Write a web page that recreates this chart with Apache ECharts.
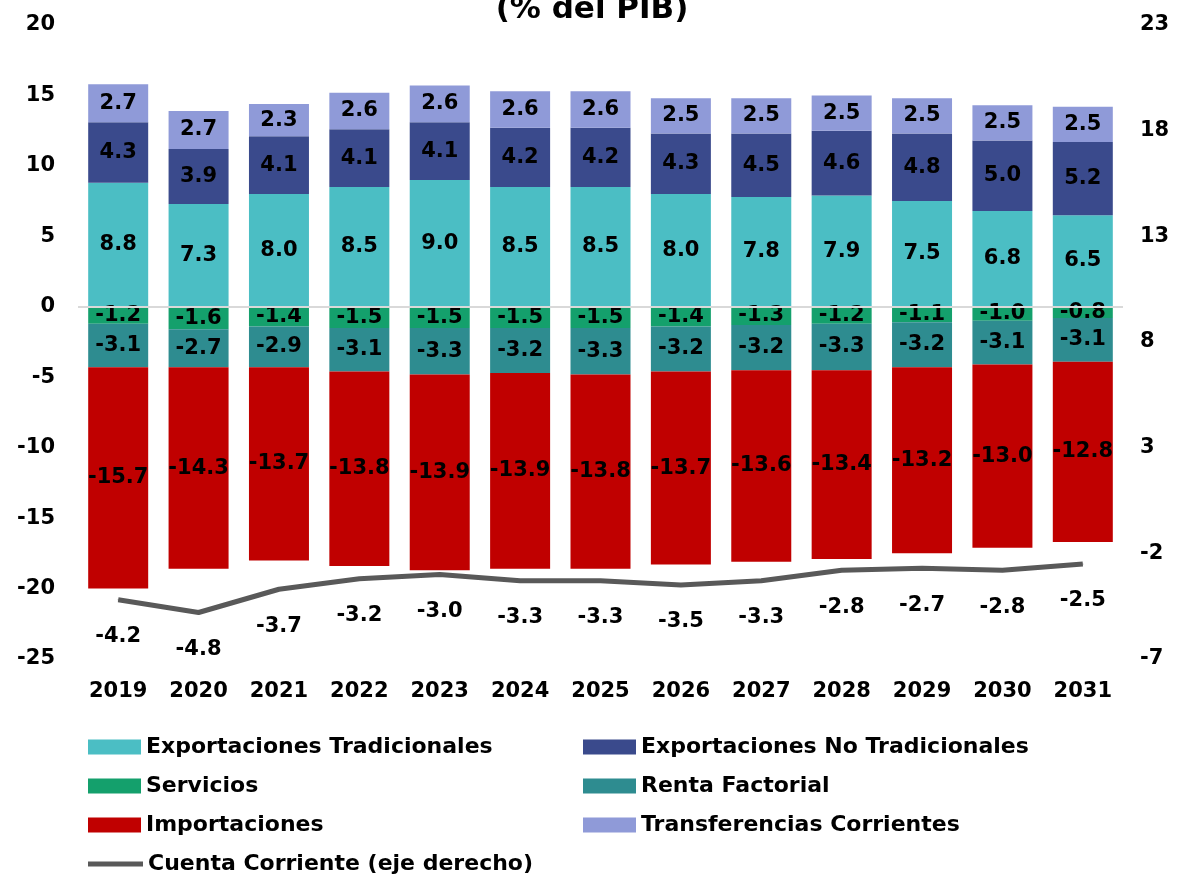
<!DOCTYPE html>
<html>
<head>
    <meta charset="utf-8">
    <title>Cuenta corriente (% del PIB)</title>
    <style>
        html, body { margin: 0; padding: 0; background: #fff; }
        #chart { width: 1184px; height: 878px; }
    </style>
</head>
<body>
    <div id="chart"></div>
    <script src="https://cdn.jsdelivr.net/npm/echarts@6/dist/echarts.min.js"></script>
    <script>
// años
var years = ['2019', '2020', '2021', '2022', '2023', '2024', '2025', '2026', '2027', '2028', '2029', '2030', '2031'];
// componentes (% del PIB)
var expTrad   = [8.8, 7.3, 8.0, 8.5, 9.0, 8.5, 8.5, 8.0, 7.8, 7.9, 7.5, 6.8, 6.5];
var expNoTrad = [4.3, 3.9, 4.1, 4.1, 4.1, 4.2, 4.2, 4.3, 4.5, 4.6, 4.8, 5.0, 5.2];
var servicios = [-1.2, -1.6, -1.4, -1.5, -1.5, -1.5, -1.5, -1.4, -1.3, -1.2, -1.1, -1.0, -0.8];
var renta     = [-3.1, -2.7, -2.9, -3.1, -3.3, -3.2, -3.3, -3.2, -3.2, -3.3, -3.2, -3.1, -3.1];
var importac  = [-15.7, -14.3, -13.7, -13.8, -13.9, -13.9, -13.8, -13.7, -13.6, -13.4, -13.2, -13.0, -12.8];
var transfer  = [2.7, 2.7, 2.3, 2.6, 2.6, 2.6, 2.6, 2.5, 2.5, 2.5, 2.5, 2.5, 2.5];
// cuenta corriente (eje derecho)
var cuentaCorriente = [-4.2, -4.8, -3.7, -3.2, -3.0, -3.3, -3.3, -3.5, -3.3, -2.8, -2.7, -2.8, -2.5];
// etiquetas del eje derecho
var rightTicks = [-7, -2, 3, 8, 13, 18, 23];

var FONT = 'DejaVu Sans';

var chart = echarts.init(document.getElementById('chart'));

function barSerie(name, data, color, withZero) {
    var s = {
        name: name,
        type: 'bar',
        stack: 'total',
        data: data,
        barWidth: 60,
        itemStyle: { color: color },
        label: {
            show: true,
            position: 'inside',
            color: '#000',
            fontFamily: FONT,
            fontWeight: 'bold',
            fontSize: 21,
            formatter: function (p) { return p.value.toFixed(1); }
        }
    };
    if (withZero) {
        // línea del cero
        s.markLine = {
            silent: true,
            symbol: 'none',
            label: { show: false },
            lineStyle: { color: '#d9d9d9', width: 2, type: 'solid' },
            data: [{ yAxis: 0 }]
        };
    }
    return s;
}

var legendText = { color: '#000', fontFamily: FONT, fontWeight: 'bold', fontSize: 22, lineHeight: 24 };

var option = {
    backgroundColor: '#fff',
    animation: false,
    title: {
        text: '(% del PIB)',
        left: 'center',
        top: -11,
        textStyle: { color: '#000', fontFamily: FONT, fontWeight: 'bold', fontSize: 31 }
    },
    grid: { left: 78, right: 61, top: 25, bottom: 219 },
    legend: [
        {
            orient: 'vertical', left: 88, top: 735, padding: 0,
            itemWidth: 53, itemHeight: 15, itemGap: 15,
            icon: 'rect', selectedMode: false,
            textStyle: legendText,
            data: ['Exportaciones Tradicionales', 'Servicios', 'Importaciones']
        },
        {
            orient: 'vertical', left: 583, top: 735, padding: 0,
            itemWidth: 53, itemHeight: 15, itemGap: 15,
            icon: 'rect', selectedMode: false,
            textStyle: legendText,
            data: ['Exportaciones No Tradicionales', 'Renta Factorial', 'Transferencias Corrientes']
        },
        {
            orient: 'vertical', left: 88, top: 852, padding: 0,
            itemWidth: 55, itemHeight: 5,
            icon: 'rect', selectedMode: false,
            textStyle: legendText,
            data: ['Cuenta Corriente (eje derecho)']
        }
    ],
    xAxis: {
        type: 'category',
        data: years,
        axisLine: { show: false },
        axisTick: { show: false },
        axisLabel: { color: '#000', fontFamily: FONT, fontWeight: 'bold', fontSize: 21, margin: 22 }
    },
    yAxis: [
        {
            type: 'value', min: -25, max: 20, interval: 5,
            splitLine: { show: false },
            axisLine: { show: false },
            axisTick: { show: false },
            axisLabel: { color: '#000', fontFamily: FONT, fontWeight: 'bold', fontSize: 21, margin: 23 }
        },
        {
            type: 'value', min: -7, max: 23, interval: 5,
            position: 'right',
            splitLine: { show: false },
            axisLine: { show: false },
            axisTick: { show: false },
            axisLabel: {
                color: '#000', fontFamily: FONT, fontWeight: 'bold', fontSize: 21, margin: 17,
                customValues: rightTicks
            }
        }
    ],
    series: [
        barSerie('Exportaciones Tradicionales', expTrad, '#4bbec4', true),
        barSerie('Servicios', servicios, '#14a06c'),
        barSerie('Exportaciones No Tradicionales', expNoTrad, '#3a4a8c'),
        barSerie('Renta Factorial', renta, '#2e8c90'),
        barSerie('Importaciones', importac, '#c00000'),
        barSerie('Transferencias Corrientes', transfer, '#8f9ad8'),
        {
            name: 'Cuenta Corriente (eje derecho)',
            type: 'line',
            yAxisIndex: 1,
            data: cuentaCorriente,
            symbol: 'circle',
            symbolSize: 1,
            itemStyle: { color: '#595959' },
            lineStyle: { color: '#595959', width: 5 },
            z: 5,
            label: {
                show: true,
                position: 'bottom',
                distance: 26,
                color: '#000',
                fontFamily: FONT,
                fontWeight: 'bold',
                fontSize: 21,
                formatter: function (p) { return p.value.toFixed(1); }
            }
        }
    ]
};

chart.setOption(option);
window.addEventListener('resize', function () { chart.resize(); });
    </script>
</body>
</html>
